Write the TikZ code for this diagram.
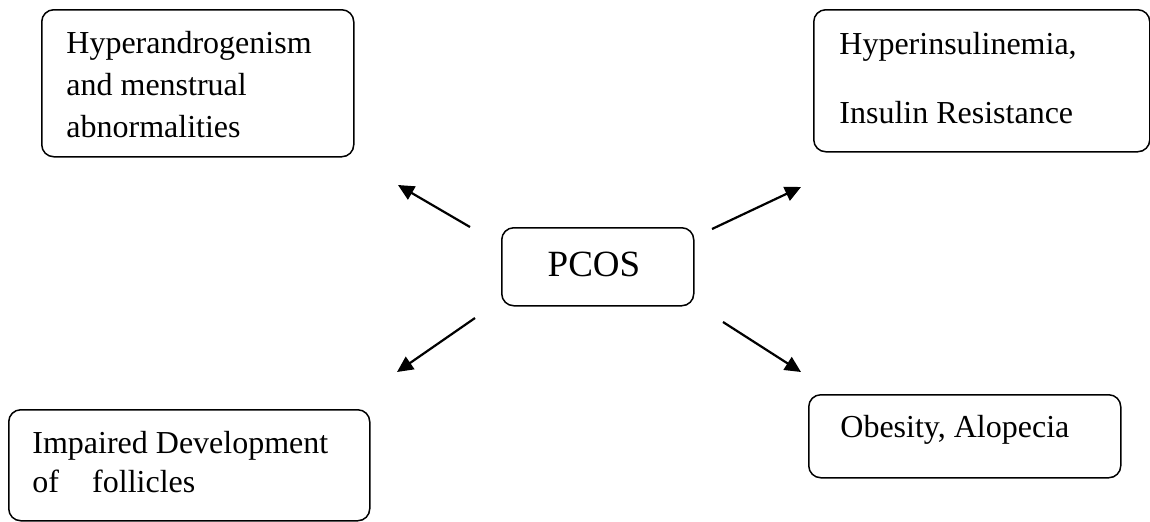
\documentclass[tikz,border=0pt]{standalone}
\usepackage{fontspec}
\setmainfont{Liberation Serif}
\usetikzlibrary{arrows.meta}
\tikzset{
  box/.style={draw, line width=0.75pt, rounded corners=6pt, inner sep=0pt, anchor=north west},
  txt/.style={inner sep=0pt, anchor=base west, align=left, font=\fontsize{16}{21}\selectfont},
  arr/.style={line width=1.1pt, -{Triangle[length=8pt,width=7.5pt]}}
}
\begin{document}
\begin{tikzpicture}[x=0.5pt,y=-0.5pt]
\useasboundingbox (0,0) rectangle (1150,521);
% boxes
\node[box, minimum width=156pt, minimum height=73.5pt] (tl) at (41,9) {};
\node[box, minimum width=168pt, minimum height=71pt] (tr) at (813,9) {};
\node[box, minimum width=96pt, minimum height=39pt] (c) at (501,227) {};
\node[box, minimum width=180.5pt, minimum height=55.5pt] (bl) at (8,409) {};
\node[box, minimum width=156pt, minimum height=41.5pt] (br) at (808,394) {};
% texts (anchored at the baseline of the last line)
\node[txt] (tltext) at (66,137) {Hyperandrogenism\\and menstrual\\abnormalities};
\node[txt] (trtext) at (839,123) {Hyperinsulinemia,\\[13.5pt]Insulin Resistance};
\node[inner sep=0pt, anchor=base, font=\fontsize{18.5}{22}\selectfont] (ctext) at (594,276) {PCOS};
\node[txt] (bltext) at (32,492) {Impaired Development\\[-1.5pt]of\hspace{12.6pt} follicles};
\node[txt] (brtext) at (840,437) {Obesity, Alopecia};
% arrow ends
\coordinate (nwt) at (470,227); \coordinate (nwh) at (398,185);
\coordinate (net) at (712,229); \coordinate (neh) at (801,187);
\coordinate (swt) at (475,318); \coordinate (swh) at (397,372);
\coordinate (set) at (723,322); \coordinate (seh) at (801,372);
\draw[arr] (nwt) -- (nwh);
\draw[arr] (net) -- (neh);
\draw[arr] (swt) -- (swh);
\draw[arr] (set) -- (seh);
\end{tikzpicture}
\end{document}
